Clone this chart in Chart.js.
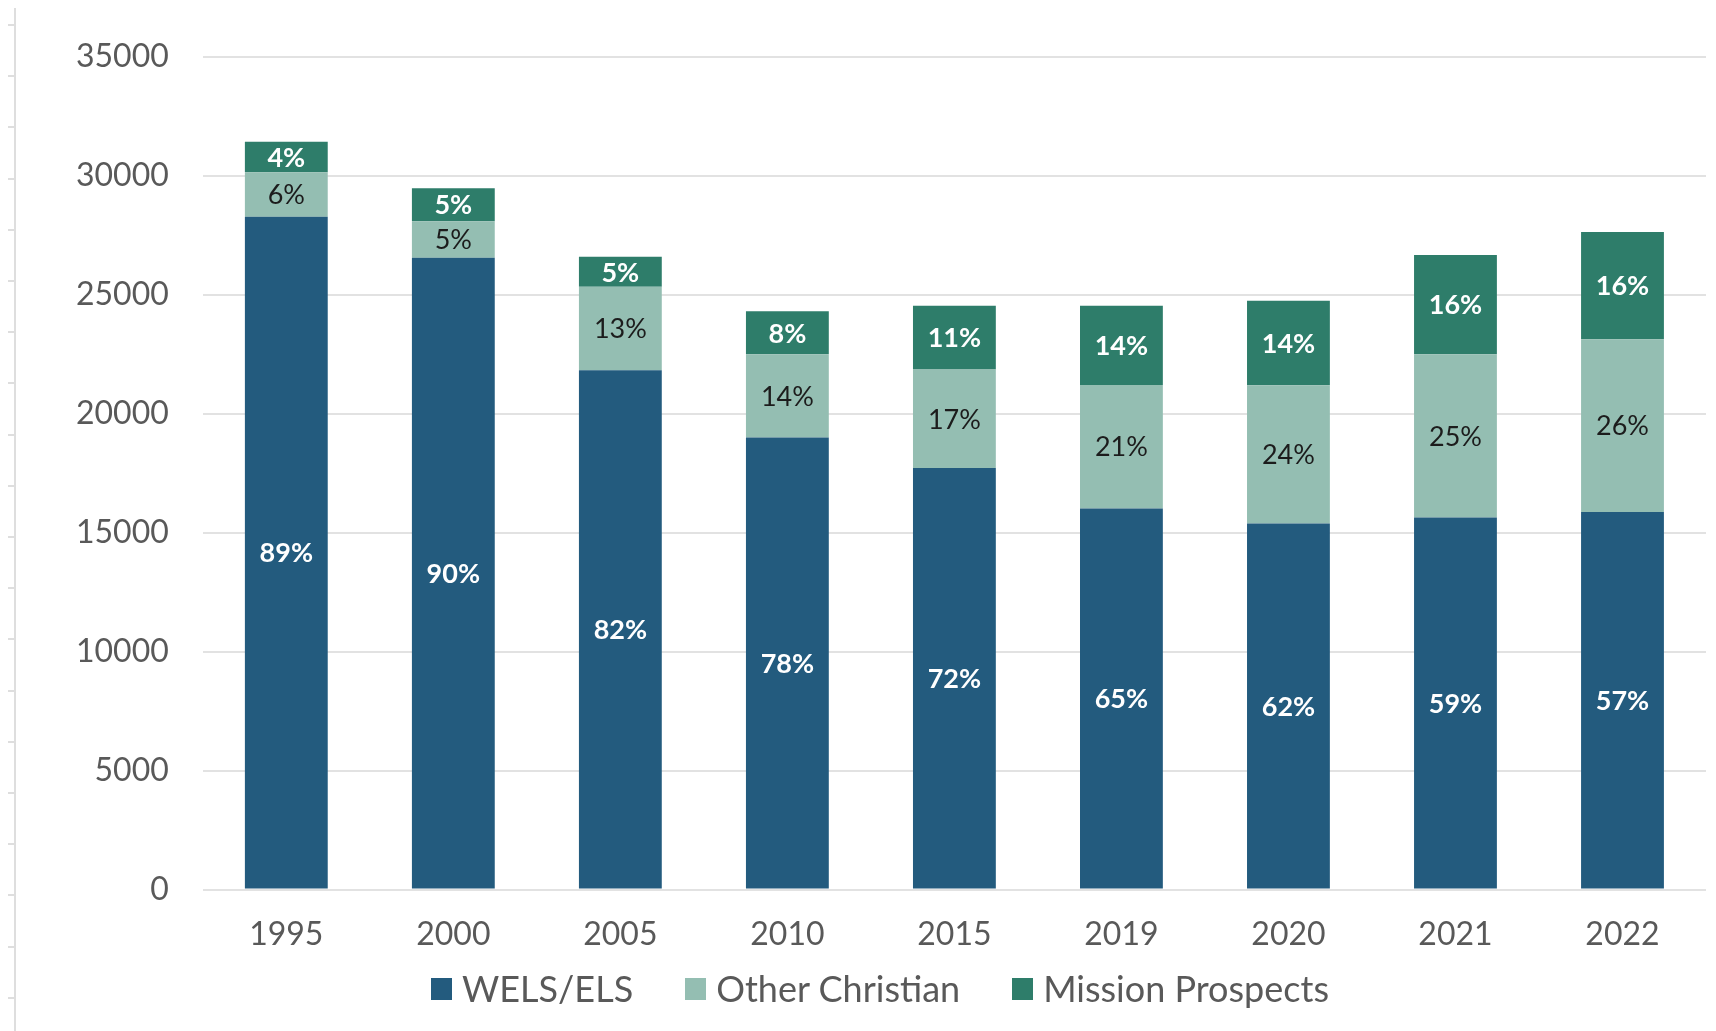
<!DOCTYPE html>
<html>
<head>
<meta charset="utf-8">
<title>WELS/ELS</title>
<script src="https://cdn.jsdelivr.net/npm/chart.js@4"></script>
<style>
    body { margin: 0; background: #fff; }
    #caja { position: relative; width: 1716px; height: 1031px; overflow: hidden; }
    /* linea gris de la izquierda con sus marcas */
    #borde { position: absolute; left: 14px; top: 8px; width: 2px; height: 1023px; background: #dedede; }
    #marcas { position: absolute; left: 8px; top: 24px; width: 7px; height: 1000px;
        background: repeating-linear-gradient(to bottom, #dedede 0, #dedede 2px, transparent 2px, transparent 51.2px); }
    #leyenda { position: absolute; left: 22px; width: 1716px; top: 968px; display: flex; justify-content: center;
        font-family: Lato, sans-serif; font-size: 36px; color: #595959; line-height: 41px; }
    #leyenda span.item { display: flex; align-items: center; margin: 0 26px 0 26px; }
    #leyenda span.cuadro { display: inline-block; width: 21px; height: 22px; margin-right: 10px; }
</style>
</head>
<body>
<div id="caja">
    <div id="borde"></div>
    <div id="marcas"></div>
    <canvas id="grafica" width="1716" height="1031"></canvas>
    <div id="leyenda"></div>
</div>
<script>
var anios = ['1995', '2000', '2005', '2010', '2015', '2019', '2020', '2021', '2022'];
var wels = [28280, 26560, 21830, 19000, 17720, 16020, 15390, 15640, 15870];
var otros = [1870, 1540, 3510, 3500, 4140, 5190, 5810, 6860, 7270];
var mision = [1290, 1380, 1260, 1810, 2680, 3330, 3550, 4180, 4500];
var pctWels = ['89%', '90%', '82%', '78%', '72%', '65%', '62%', '59%', '57%'];
var pctOtros = ['6%', '5%', '13%', '14%', '17%', '21%', '24%', '25%', '26%'];
var pctMision = ['4%', '5%', '5%', '8%', '11%', '14%', '14%', '16%', '16%'];
var ticksY = [0, 5000, 10000, 15000, 20000, 25000, 30000, 35000];

var mychart;

// etiquetas de porcentaje en el centro de cada segmento
var etiquetas = {
    id: 'etiquetas',
    afterDatasetsDraw: function (chart) {
        var ctx = chart.ctx;
        ctx.save();
        ctx.textAlign = 'center';
        ctx.textBaseline = 'middle';
        chart.data.datasets.forEach(function (ds, i) {
            var meta = chart.getDatasetMeta(i);
            meta.data.forEach(function (barra, j) {
                ctx.font = (ds.negrita ? 'bold ' : '') + '27px Lato';
                ctx.fillStyle = ds.colorTexto;
                ctx.fillText(ds.pct[j], barra.x, (barra.y + barra.base) / 2 + 1);
            });
        });
        ctx.restore();
    }
};

function armarLeyenda(chart) {
    var html = '';
    chart.data.datasets.forEach(function (ds) {
        html += '<span class="item"><span class="cuadro" style="background:' + ds.backgroundColor + '"></span>' + ds.label + '</span>';
    });
    document.getElementById('leyenda').innerHTML = html;
}

var ctx = document.getElementById('grafica');
mychart = new Chart(ctx, {
    type: 'bar',
    data: {
        labels: anios,
        datasets: [{
            label: 'WELS/ELS',
            data: wels,
            pct: pctWels,
            negrita: true,
            colorTexto: '#ffffff',
            backgroundColor: '#235b7e'
        }, {
            label: 'Other Christian',
            data: otros,
            pct: pctOtros,
            negrita: false,
            colorTexto: '#1c1c1c',
            backgroundColor: '#94beb2'
        }, {
            label: 'Mission Prospects',
            data: mision,
            pct: pctMision,
            negrita: true,
            colorTexto: '#ffffff',
            backgroundColor: '#2e7d6a'
        }]
    },
    options: {
        responsive: false,
        animation: false,
        datasets: {
            bar: { categoryPercentage: 1, barPercentage: 0.496, borderWidth: 0 }
        },
        layout: { padding: { top: 57, left: 42, right: 10, bottom: 59 } },
        plugins: {
            legend: { display: false },
            tooltip: { enabled: false }
        },
        scales: {
            x: {
                stacked: true,
                grid: { display: false },
                border: { display: false },
                ticks: { color: '#595959', font: { family: 'Lato', size: 32 }, padding: 18 }
            },
            y: {
                stacked: true,
                min: 0,
                max: 35000,
                afterBuildTicks: function (eje) {
                    eje.ticks = ticksY.map(function (v) { return { value: v }; });
                },
                grid: { color: '#e2e2e2', lineWidth: 2, drawTicks: false },
                border: { display: false },
                ticks: {
                    color: '#595959',
                    font: { family: 'Lato', size: 32 },
                    padding: 34,
                    callback: function (valor) { return String(valor); }
                }
            }
        }
    },
    plugins: [etiquetas]
});
armarLeyenda(mychart);
</script>
</body>
</html>
